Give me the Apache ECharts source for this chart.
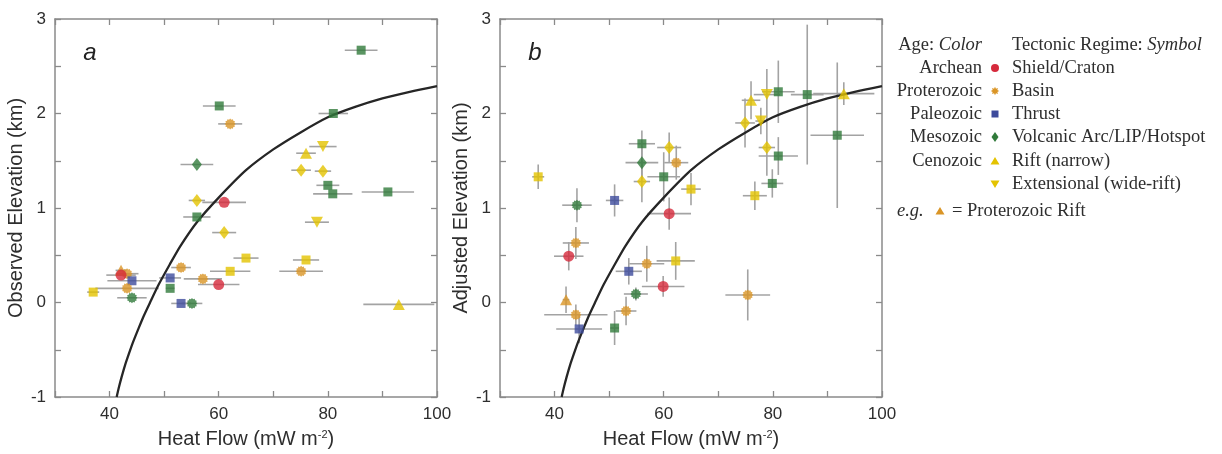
<!DOCTYPE html>
<html>
<head>
<meta charset="utf-8">
<script src="https://cdn.jsdelivr.net/npm/echarts@6/dist/echarts.min.js"></script>
<style>
  html, body { margin: 0; padding: 0; background: #fff; }
  #chart { width: 1222px; height: 454px; }
</style>
</head>
<body>
<div id="chart"></div>
<script>
// panel a: observed elevation vs heat flow
const aHeat = [60.1, 62.1, 56.0, 56.0, 61.0, 86.1, 81.0, 79.1, 76.0, 75.1, 79.1, 80.0, 80.9, 91.0, 56.0, 61.0, 65.0, 53.1, 62.1, 42.1, 43.2, 42.1, 44.1, 51.1, 57.1, 60.0, 51.1, 43.2, 37.0, 44.1, 53.1, 55.1, 78.0, 76.0, 75.1, 93.0];
const aElev = [2.08, 1.89, 1.46, 1.08, 1.06, 2.67, 2.0, 1.65, 1.58, 1.40, 1.39, 1.24, 1.15, 1.17, 0.905, 0.74, 0.47, 0.37, 0.33, 0.34, 0.305, 0.29, 0.23, 0.26, 0.25, 0.19, 0.15, 0.15, 0.11, 0.05, -0.01, -0.01, 0.85, 0.45, 0.33, -0.02];
const aHeatErr = [3, 2.2, 3, 1.5, 4, 3, 2.7, 2.5, 1.8, 1.8, 1.5, 2.1, 3.6, 4.8, 2.5, 2.2, 2.3, 1.8, 3.7, 1, 2.1, 2.7, 4.5, 2, 3.5, 3.8, 0.8, 5.8, 1.1, 2.7, 1.8, 1.9, 2.2, 2.4, 4, 6.5];
const aAge = ['Me','Pr','Me','Ce','Ar','Me','Me','Ce','Ce','Ce','Ce','Me','Me','Me','Me','Ce','Ce','Pr','Ce','Pr','Pr','Ar','Pa','Pa','Pr','Ar','Me','Pr','Ce','Me','Pa','Me','Ce','Ce','Pr','Ce'];
const aRegime = ['T','B','V','V','S','T','T','E','R','V','V','T','T','T','T','V','T','B','T','R','B','S','T','T','B','S','T','B','T','B','T','B','E','T','B','R'];

// panel b: adjusted elevation vs heat flow
const bHeat = [37.0, 56.0, 61.0, 56.0, 62.3, 60.0, 56.0, 65.0, 51.0, 44.1, 86.3, 81.0, 93.0, 78.9, 76.0, 74.9, 77.8, 91.8, 78.9, 81.0, 79.9, 76.7, 61.0, 43.9, 42.6, 62.2, 56.9, 53.6, 59.9, 54.9, 42.1, 43.9, 53.1, 44.5, 51.0, 75.4];
const bElev = [1.33, 1.68, 1.64, 1.48, 1.48, 1.33, 1.28, 1.2, 1.08, 1.03, 2.2, 2.23, 2.21, 2.2, 2.14, 1.9, 1.92, 1.77, 1.64, 1.55, 1.26, 1.13, 0.94, 0.63, 0.49, 0.44, 0.41, 0.33, 0.17, 0.09, 0.03, -0.13, -0.09, -0.28, -0.27, 0.08];
const bHeatErr = [1.1, 2.4, 2.2, 3, 2.2, 3, 1.5, 1.8, 1.6, 2.7, 3, 3, 5.6, 2.4, 1.7, 1.8, 1, 4.9, 1.5, 3.6, 2, 2.2, 4, 2.4, 2.7, 3.5, 3.2, 2.4, 3.9, 2.2, 0.6, 5.8, 1.9, 4.2, 0.8, 4.1];
const bElevErr = [0.13, 0.14, 0.16, 0.17, 0.18, 0.26, 0.22, 0.17, 0.17, 0.18, 0.74, 0.33, 0.12, 0.27, 0.2, 0.26, 0.14, 0.77, 0.3, 0.2, 0.15, 0.15, 0.17, 0.17, 0.15, 0.2, 0.19, 0.14, 0.11, 0.07, 0.14, 0.11, 0.15, 0.15, 0.18, 0.27];
const bAge = ['Ce','Me','Ce','Me','Pr','Me','Ce','Ce','Pa','Me','Me','Me','Ce','Ce','Ce','Ce','Ce','Me','Ce','Me','Me','Ce','Ar','Pr','Ar','Ce','Pr','Pa','Ar','Me','Pr','Pr','Pr','Pa','Me','Pr'];
const bRegime = ['T','T','V','V','B','T','V','T','T','B','T','T','R','E','R','V','E','T','V','T','T','T','S','B','S','T','B','T','S','B','R','B','B','T','T','B'];

// model curve (same in both panels)
const curveHeat = [41.3, 41.7, 42.2, 42.8, 43.5, 44.3, 45.2, 46.2, 47.5, 49, 51, 53, 56, 60, 65, 70, 75, 80, 85, 90, 95, 100];
const curveElev = [-1.0, -0.9, -0.79, -0.67, -0.55, -0.42, -0.29, -0.15, 0.01, 0.19, 0.4, 0.6, 0.85, 1.11, 1.4, 1.62, 1.8, 1.96, 2.07, 2.16, 2.23, 2.29];

// legend
const ageNames = ['Archean', 'Proterozoic', 'Paleozoic', 'Mesozoic', 'Cenozoic'];
const regimeNames = ['Shield/Craton', 'Basin', 'Thrust', 'Volcanic Arc/LIP/Hotspot', 'Rift (narrow)', 'Extensional (wide-rift)'];

const ageColor = { Ar: '#d62a3c', Pr: '#da9526', Pa: '#3d4b9c', Me: '#317b3b', Ce: '#e4c300' };
const regimeKeys = ['S', 'B', 'T', 'V', 'R', 'E'];
const legendColors = ['#d62a3c', '#da9526', '#3d4b9c', '#317b3b', '#e4c300', '#e4c300'];

// spiky circle used for basins
function starPoints(cx, cy, r, n, inner) {
  const pts = [];
  for (let k = 0; k < n * 2; k++) {
    const rr = k % 2 ? r * inner : r;
    const ang = (Math.PI * k) / n - Math.PI / 2;
    pts.push([cx + rr * Math.cos(ang), cy + rr * Math.sin(ang)]);
  }
  return pts;
}
const basinPath = 'path://' + starPoints(10, 10, 10, 12, 0.8)
  .map((p, i) => (i ? 'L' : 'M') + p[0].toFixed(2) + ' ' + p[1].toFixed(2)).join(' ') + ' Z';

function markerFor(regime) {
  switch (regime) {
    case 'S': return { symbol: 'circle', symbolSize: 11 };
    case 'B': return { symbol: basinPath, symbolSize: 11 };
    case 'T': return { symbol: 'rect', symbolSize: 9 };
    case 'V': return { symbol: 'diamond', symbolSize: [10, 13] };
    case 'R': return { symbol: 'triangle', symbolSize: [12, 11] };
    case 'E': return { symbol: 'triangle', symbolSize: [12, 11], symbolRotate: 180 };
  }
}

function pointData(heat, elev, age, regime) {
  return heat.map((h, i) => Object.assign(
    { value: [h, elev[i]], itemStyle: { color: ageColor[age[i]] } },
    markerFor(regime[i])
  ));
}

const axisGray = '#8a8a8a';
const sans = 'Liberation Sans';
const serif = 'Liberation Serif';
const txt = '#2e2e2e';

function xAxes(gridIndex) {
  const common = {
    gridIndex, type: 'value', min: 30, max: 100, interval: 10,
    axisLine: { onZero: false, lineStyle: { color: axisGray, width: 1.5 } },
    axisTick: { inside: true, length: 6, lineStyle: { color: axisGray, width: 1.3 } },
    splitLine: { show: false },
  };
  return [
    Object.assign({}, common, {
      position: 'bottom',
      axisLabel: {
        color: txt, fontSize: 17, fontFamily: sans, margin: 9,
        formatter: v => (v > 30 && v % 20 === 0 ? String(v) : ''),
      },
      name: '{n|Heat Flow (mW m}{s|-2}{n|)}',
      nameLocation: 'middle', nameGap: 32,
      nameTextStyle: {
        rich: {
          n: { fontSize: 20, fontFamily: sans, color: txt },
          s: { fontSize: 11, fontFamily: sans, color: txt, verticalAlign: 'top', padding: [0, 0, 9, 0] },
        },
      },
    }),
    Object.assign({}, common, { position: 'top', axisLabel: { show: false } }),
  ];
}

function yAxes(gridIndex, title) {
  const common = {
    gridIndex, type: 'value', min: -1, max: 3, interval: 0.5,
    axisLine: { onZero: false, lineStyle: { color: axisGray, width: 1.5 } },
    axisTick: { inside: true, length: 6, lineStyle: { color: axisGray, width: 1.3 } },
    splitLine: { show: false },
  };
  return [
    Object.assign({}, common, {
      position: 'left',
      axisLabel: {
        color: txt, fontSize: 17, fontFamily: sans, margin: 9,
        formatter: v => (Number.isInteger(v) ? String(v) : ''),
      },
      name: title, nameLocation: 'middle', nameGap: 27,
      nameTextStyle: { fontSize: 20, fontFamily: sans, color: txt },
    }),
    Object.assign({}, common, { position: 'right', axisLabel: { show: false } }),
  ];
}

function errorSeries(axisIdx, heat, elev, heatErr, elevErr) {
  return {
    type: 'custom',
    xAxisIndex: axisIdx, yAxisIndex: axisIdx,
    silent: true, z: 1, clip: true,
    data: heat.map((h, i) => [h, elev[i], heatErr[i], elevErr ? elevErr[i] : 0]),
    encode: { x: 0, y: 1 },
    renderItem(params, api) {
      const x = api.value(0), y = api.value(1), dx = api.value(2), dy = api.value(3);
      const style = { stroke: '#a3a3a3', lineWidth: 1.6 };
      const l = api.coord([x - dx, y]), r = api.coord([x + dx, y]);
      const children = [{ type: 'line', shape: { x1: l[0], y1: l[1], x2: r[0], y2: r[1] }, style }];
      if (dy) {
        const t = api.coord([x, y + dy]), b = api.coord([x, y - dy]);
        children.push({ type: 'line', shape: { x1: t[0], y1: t[1], x2: b[0], y2: b[1] }, style });
      }
      return { type: 'group', children };
    },
  };
}

function curveSeries(axisIdx) {
  return {
    type: 'line', xAxisIndex: axisIdx, yAxisIndex: axisIdx,
    data: curveHeat.map((h, i) => [h, curveElev[i]]),
    showSymbol: false, smooth: 0.25, silent: true, z: 2,
    lineStyle: { color: '#262626', width: 2.3 },
  };
}

function scatterSeries(axisIdx, heat, elev, age, regime) {
  return {
    type: 'scatter', xAxisIndex: axisIdx, yAxisIndex: axisIdx, z: 3,
    data: pointData(heat, elev, age, regime),
  };
}

// legend graphics
const legendGraphic = [];
const rowY = [45, 68, 91, 114, 137, 161, 184];
const symX = 995;
const lf = 18.5;
legendGraphic.push({
  type: 'text', x: 982, y: rowY[0],
  style: {
    text: '{n|Age: }{i|Color}', align: 'right', verticalAlign: 'middle',
    rich: {
      n: { fontSize: lf, fontFamily: serif, fill: txt },
      i: { fontSize: lf, fontFamily: serif, fontStyle: 'italic', fill: txt },
    },
  },
});
legendGraphic.push({
  type: 'text', x: 1012, y: rowY[0],
  style: {
    text: '{n|Tectonic Regime: }{i|Symbol}', align: 'left', verticalAlign: 'middle',
    rich: {
      n: { fontSize: lf, fontFamily: serif, fill: txt },
      i: { fontSize: lf, fontFamily: serif, fontStyle: 'italic', fill: txt },
    },
  },
});
ageNames.forEach((name, i) => {
  legendGraphic.push({
    type: 'text', x: 982, y: rowY[i + 1],
    style: { text: name, align: 'right', verticalAlign: 'middle', fontSize: lf, fontFamily: serif, fill: txt },
  });
});
function legendSymbol(key, cx, cy, color) {
  const style = { fill: color };
  switch (key) {
    case 'S': return { type: 'circle', shape: { cx, cy, r: 4 }, style };
    case 'B': return { type: 'polygon', shape: { points: starPoints(cx, cy, 4.2, 8, 0.6) }, style };
    case 'T': return { type: 'rect', shape: { x: cx - 3.5, y: cy - 3.5, width: 7, height: 7 }, style };
    case 'V': return { type: 'polygon', shape: { points: [[cx, cy - 5], [cx + 3.5, cy], [cx, cy + 5], [cx - 3.5, cy]] }, style };
    case 'R': return { type: 'polygon', shape: { points: [[cx, cy - 4], [cx + 4.5, cy + 3.5], [cx - 4.5, cy + 3.5]] }, style };
    case 'E': return { type: 'polygon', shape: { points: [[cx, cy + 4], [cx + 4.5, cy - 3.5], [cx - 4.5, cy - 3.5]] }, style };
  }
}
regimeNames.forEach((name, i) => {
  legendGraphic.push(legendSymbol(regimeKeys[i], symX, rowY[i + 1], legendColors[i]));
  legendGraphic.push({
    type: 'text', x: 1012, y: rowY[i + 1],
    style: { text: name, align: 'left', verticalAlign: 'middle', fontSize: lf, fontFamily: serif, fill: txt },
  });
});
legendGraphic.push({
  type: 'text', x: 897, y: 211,
  style: { text: 'e.g.', align: 'left', verticalAlign: 'middle', fontSize: lf, fontFamily: serif, fontStyle: 'italic', fill: txt },
});
legendGraphic.push(legendSymbol('R', 940, 211, ageColor.Pr));
legendGraphic.push({
  type: 'text', x: 952, y: 211,
  style: { text: '= Proterozoic Rift', align: 'left', verticalAlign: 'middle', fontSize: lf, fontFamily: serif, fill: txt },
});

// panel letters
legendGraphic.push({
  type: 'text', x: 90, y: 53,
  style: { text: 'a', align: 'center', verticalAlign: 'middle', fontSize: 24, fontFamily: sans, fontStyle: 'italic', fill: '#222' },
});
legendGraphic.push({
  type: 'text', x: 535, y: 53,
  style: { text: 'b', align: 'center', verticalAlign: 'middle', fontSize: 24, fontFamily: sans, fontStyle: 'italic', fill: '#222' },
});

const chart = echarts.init(document.getElementById('chart'), null, { renderer: 'canvas' });
chart.setOption({
  animation: false,
  backgroundColor: '#fff',
  grid: [
    { left: 55, top: 19, width: 382, height: 380 },
    { left: 500, top: 19, width: 382, height: 380 },
  ],
  xAxis: [...xAxes(0), ...xAxes(1)],
  yAxis: [...yAxes(0, 'Observed Elevation (km)'), ...yAxes(1, 'Adjusted Elevation (km)')],
  series: [
    errorSeries(0, aHeat, aElev, aHeatErr, null),
    curveSeries(0),
    scatterSeries(0, aHeat, aElev, aAge, aRegime),
    errorSeries(2, bHeat, bElev, bHeatErr, bElevErr),
    curveSeries(2),
    scatterSeries(2, bHeat, bElev, bAge, bRegime),
  ],
  graphic: legendGraphic,
});
</script>
</body>
</html>
